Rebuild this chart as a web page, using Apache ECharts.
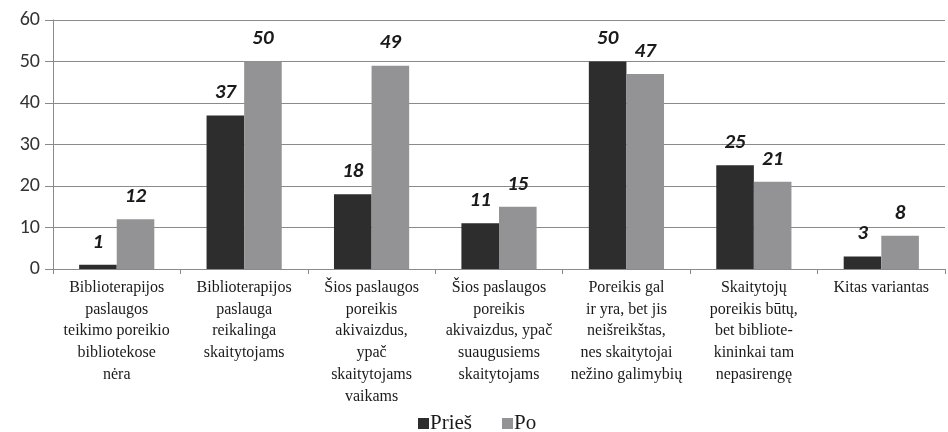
<!DOCTYPE html>
<html>
<head>
<meta charset="utf-8">
<script src="https://cdn.jsdelivr.net/npm/echarts@6/dist/echarts.min.js"></script>
<style>
  html, body { margin: 0; padding: 0; background: #fff; }
  #chart { width: 948px; height: 432px; }
</style>
</head>
<body>
<div id="chart"></div>
<script>
// category labels, broken into lines as in the source figure
var categories = [
  'Biblioterapijos\npaslaugos\nteikimo poreikio\nbibliotekose\nnėra',
  'Biblioterapijos\npaslauga\nreikalinga\nskaitytojams',
  'Šios paslaugos\nporeikis\nakivaizdus,\nypač\nskaitytojams\nvaikams',
  'Šios paslaugos\nporeikis\nakivaizdus, ypač\nsuaugusiems\nskaitytojams',
  'Poreikis gal\nir yra, bet jis\nneišreikštas,\nnes skaitytojai\nnežino galimybių',
  'Skaitytojų\nporeikis būtų,\nbet bibliote-\nkininkai tam\nnepasirengę',
  'Kitas variantas'
];
var seriesNames = ['Prieš', 'Po'];
var before = [1, 37, 18, 11, 50, 25, 3];
var after = [12, 50, 49, 15, 47, 21, 8];

var myChart = echarts.init(document.getElementById('chart'));

var barLabel = {
  show: true,
  position: 'top',
  distance: 12,
  color: '#1a1a1a',
  fontFamily: 'Carlito',
  fontWeight: 'bold',
  fontStyle: 'italic',
  fontSize: 21
};

var option = {
  backgroundColor: '#fff',
  animation: false,
  grid: {
    left: 53,
    right: 3,
    top: 20,
    bottom: 163
  },
  legend: {
    data: seriesNames,
    left: 413,
    top: 408,
    itemWidth: 11,
    itemHeight: 11,
    itemGap: 30,
    icon: 'rect',
    textStyle: {
      fontFamily: 'Liberation Serif',
      fontSize: 21,
      color: '#1a1a1a',
      padding: [0, 0, 0, -4]
    }
  },
  xAxis: {
    type: 'category',
    data: categories,
    axisLine: { lineStyle: { color: '#8a8a8a', width: 1 } },
    axisTick: { show: true, length: 5, lineStyle: { color: '#8a8a8a' } },
    // drawn below as serif text placed with the axis scale
    axisLabel: { show: false }
  },
  yAxis: {
    type: 'value',
    min: 0,
    max: 60,
    interval: 10,
    axisLine: { show: true, lineStyle: { color: '#8a8a8a', width: 1 } },
    axisTick: { show: true, length: 8, lineStyle: { color: '#8a8a8a' } },
    splitLine: { lineStyle: { color: '#8a8a8a', width: 1 } },
    axisLabel: {
      margin: 13,
      fontFamily: 'Carlito',
      fontSize: 20,
      color: '#333'
    }
  },
  series: [
    {
      name: seriesNames[0],
      type: 'bar',
      data: before,
      barGap: '0%',
      barCategoryGap: '41%',
      itemStyle: { color: '#2d2d2d' },
      label: barLabel
    },
    {
      name: seriesNames[1],
      type: 'bar',
      data: after,
      itemStyle: { color: '#939396' },
      label: barLabel
    }
  ]
};

myChart.setOption(option);

// category labels in a serif face, positioned from the axis scales
var baseY = myChart.convertToPixel({ yAxisIndex: 0 }, 0);
var labelEls = categories.map(function (c) {
  var x = myChart.convertToPixel({ xAxisIndex: 0 }, c);
  return {
    type: 'text',
    x: x,
    y: baseY + 8,
    silent: true,
    style: {
      text: c,
      font: '16px "Liberation Serif"',
      fill: '#1a1a1a',
      align: 'center',
      verticalAlign: 'top',
      lineHeight: 21.7
    }
  };
});
myChart.setOption({ graphic: labelEls });
</script>
</body>
</html>
